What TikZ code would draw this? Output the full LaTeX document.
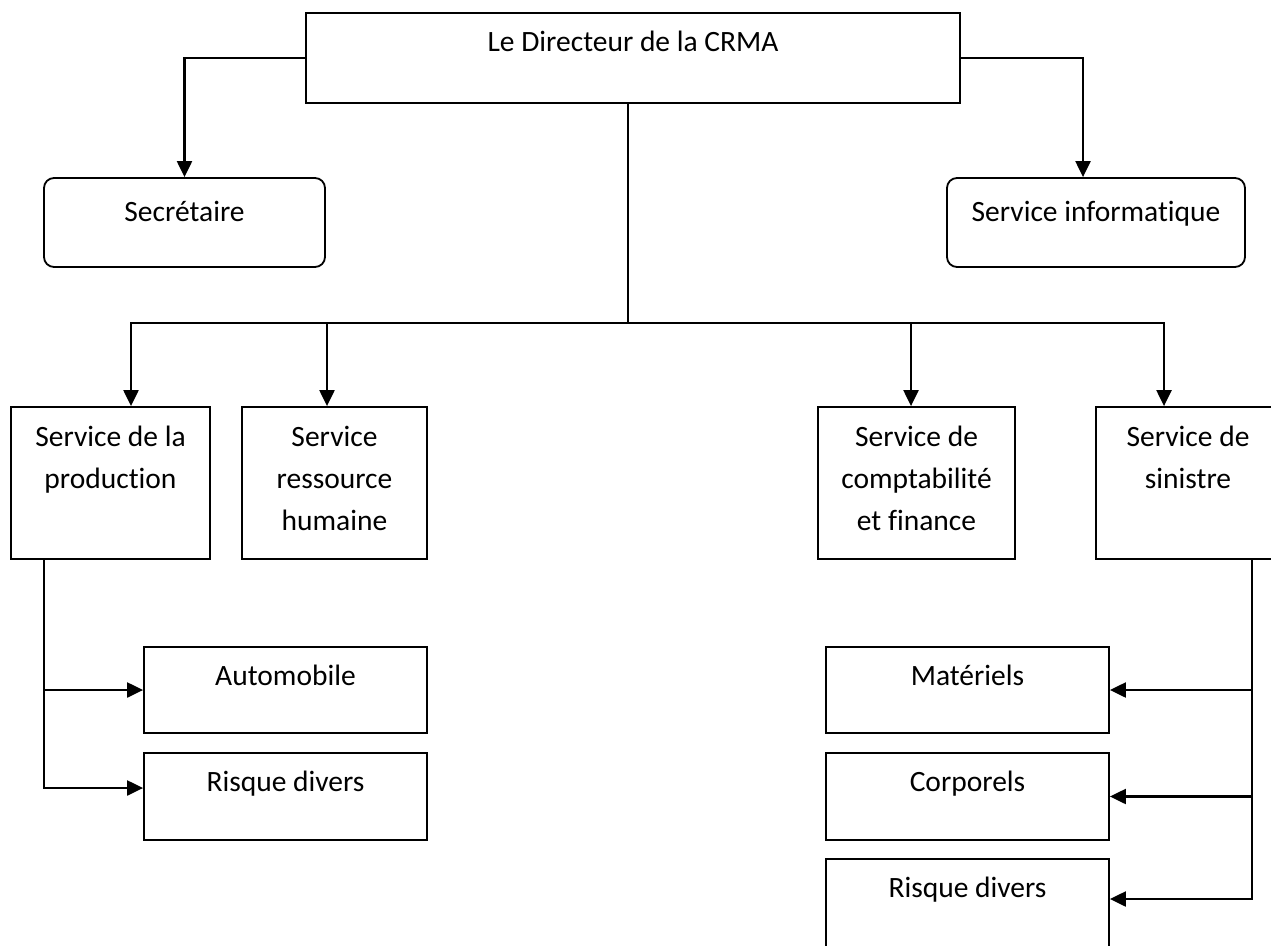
\documentclass[tikz,border=0pt]{standalone}
\usepackage{fontspec}
\setmainfont{Carlito}[Ligatures={NoCommon,NoRequired,NoContextual}]
\usetikzlibrary{arrows.meta,calc}
\begin{document}
\begin{tikzpicture}[x=1pt,y=-1pt,
  box/.style={draw,line width=1.8pt,inner sep=0pt},
  rbox/.style={box,rounded corners=10pt},
  txt/.style={anchor=base,inner sep=0pt,font=\fontsize{29.5}{42}\selectfont},
  conn/.style={line width=2.2pt},
  arr/.style={line width=2.2pt,-{Triangle[length=16pt,width=15pt]}}]
\path[use as bounding box] (0,0) rectangle (1271,945);
\clip (0,0) rectangle (1271,945);
% boxes
\node[box,minimum width=654pt,minimum height=90pt] (dir) at (633,58) {};
\node[rbox,minimum width=281pt,minimum height=89pt] (sec) at (184.5,222.5) {};
\node[rbox,minimum width=298pt,minimum height=89pt] (info) at (1096,222.5) {};
\node[box,minimum width=199pt,minimum height=152pt] (prod) at (110.5,483) {};
\node[box,minimum width=185pt,minimum height=152pt] (rh) at (334.5,483) {};
\node[box,minimum width=197pt,minimum height=152pt] (compta) at (916.5,483) {};
\node[box,minimum width=184pt,minimum height=152pt] (sin) at (1188,483) {};
\node[box,minimum width=283pt,minimum height=86pt] (auto) at (285.5,690) {};
\node[box,minimum width=283pt,minimum height=87pt] (risq1) at (285.5,796.5) {};
\node[box,minimum width=283pt,minimum height=86pt] (mat) at (967.5,690) {};
\node[box,minimum width=283pt,minimum height=87pt] (corp) at (967.5,796.5) {};
\node[box,minimum width=283pt,minimum height=88pt] (risq2) at (967.5,903) {};
% texts
\node[txt] (dirt) at ([yshift=-39pt]dir.north) {Le Directeur de la CRMA};
\node[txt] (sect) at ([yshift=-44pt]sec.north) {Secrétaire};
\node[txt] (infot) at ([yshift=-44pt]info.north) {Service informatique};
\node[txt] (prodt) at ([yshift=-40pt]prod.north) {\begin{tabular}[t]{@{}c@{}}Service de la\\production\end{tabular}};
\node[txt] (rht) at ([yshift=-40pt]rh.north) {\begin{tabular}[t]{@{}c@{}}Service\\ressource\\humaine\end{tabular}};
\node[txt] (comptat) at ([yshift=-40pt]compta.north) {\begin{tabular}[t]{@{}c@{}}Service de\\comptabilité\\et finance\end{tabular}};
\node[txt] (sint) at ([yshift=-40pt]sin.north) {\begin{tabular}[t]{@{}c@{}}Service de\\sinistre\end{tabular}};
\node[txt] (autot) at ([yshift=-39pt]auto.north) {Automobile};
\node[txt] (risq1t) at ([yshift=-39pt]risq1.north) {Risque divers};
\node[txt] (matt) at ([yshift=-39pt]mat.north) {Matériels};
\node[txt] (corpt) at ([yshift=-39pt]corp.north) {Corporels};
\node[txt] (risq2t) at ([yshift=-39pt]risq2.north) {Risque divers};
% coordinates
\coordinate (bus) at (628,323);
\coordinate (busL) at (131,323);
\coordinate (busR) at (1164,323);
\coordinate (a2) at (327,323);
\coordinate (a3) at (911,323);
\coordinate (lv) at (44,788);
\coordinate (rv) at (1252,899);
% connectors
\draw[arr] (dir.west) -| (sec.north);
\draw[arr] (dir.east) -| ($(info.north)+(-13,0)$);
\draw[conn] (dir.south -| bus) -- (bus);
\draw[conn] (a2) -- (a3);
\draw[arr] (a2) -- (busL) -- (busL |- prod.north);
\draw[arr] (a2) -- (a2 |- rh.north);
\draw[arr] (a3) -- (a3 |- compta.north);
\draw[arr] (a3) -- (busR) -- (busR |- sin.north);
\draw[arr] (prod.south -| lv) -- (lv) -- (lv -| risq1.west);
\draw[arr] (auto.west -| lv) -- (auto.west);
\draw[arr] (sin.south -| rv) -- (rv) -- (rv -| risq2.east);
\draw[arr] (mat.east -| rv) -- (mat.east);
\draw[arr] (corp.east -| rv) -- (corp.east);
\end{tikzpicture}
\end{document}
